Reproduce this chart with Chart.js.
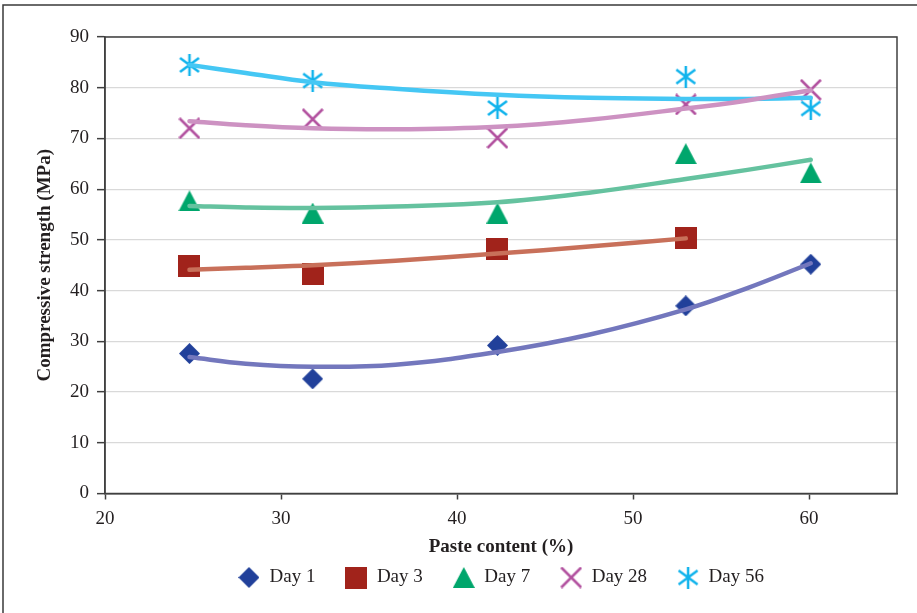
<!DOCTYPE html>
<html>
<head>
<meta charset="utf-8">
<script src="https://cdn.jsdelivr.net/npm/chart.js@4/dist/chart.umd.min.js"></script>
<style>
  html, body { margin: 0; padding: 0; background: #fff; }
  #wrap { position: relative; width: 917px; height: 613px; }
</style>
</head>
<body>
<div id="wrap"><canvas id="chart" width="917" height="613"></canvas></div>
<script>
// measured points, paste content (%) vs compressive strength (MPa)
const pasteContent = [24.8, 31.8, 42.3, 53.0, 60.1];
const day1 = [27.6, 22.6, 29.2, 37.0, 45.2];
const day3 = [44.9, 43.2, 48.3, 50.3];
const day7 = [57.7, 55.3, 55.3, 67.0, 63.2];
const day28 = [72.0, 73.8, 70.1, 76.7, 79.6];
const day56 = [84.5, 81.4, 76.0, 82.2, 75.9];

// trend curves
const trendX = [24.8, 28, 31.8, 36.5, 42.3, 47.5, 53.0, 56.5, 60.1];
const day1Trend = [26.9, 25.6, 25.0, 25.4, 27.9, 31.3, 36.3, 40.5, 45.4];
const day3Trend = [44.1, 44.5, 45.0, 45.9, 47.3, 48.7, 50.3];
const day7Trend = [56.7, 56.4, 56.3, 56.6, 57.4, 59.3, 62.0, 63.8, 65.8];
const day28Trend = [73.4, 72.6, 72.0, 71.8, 72.3, 73.7, 75.9, 77.5, 79.5];
const day56Trend = [84.5, 82.9, 81.1, 79.8, 78.6, 78.0, 77.8, 77.8, 78.0];

const seriesLabels = ['Day 1', 'Day 3', 'Day 7', 'Day 28', 'Day 56'];
const xTicksStep = 10;
const yTicksStep = 10;

const FONT_FAMILY = "'Liberation Serif', 'Times New Roman', serif";
const TEXT_COLOR = '#231f20';
const AXIS_COLOR = '#404040';

function makeMarker(w, h, draw) {
  const c = document.createElement('canvas');
  c.width = w;
  c.height = h;
  const ctx = c.getContext('2d');
  draw(ctx, w, h);
  return c;
}

const diamondMarker = makeMarker(21, 21, (ctx, w, h) => {
  ctx.fillStyle = '#21409a';
  ctx.beginPath();
  ctx.moveTo(w / 2, 0);
  ctx.lineTo(w, h / 2);
  ctx.lineTo(w / 2, h);
  ctx.lineTo(0, h / 2);
  ctx.closePath();
  ctx.fill();
});

const squareMarker = makeMarker(22, 22, (ctx, w, h) => {
  ctx.fillStyle = '#a1231b';
  ctx.fillRect(0, 0, w, h);
});

const triangleMarker = makeMarker(22, 21, (ctx, w, h) => {
  ctx.fillStyle = '#00a66c';
  ctx.beginPath();
  ctx.moveTo(w / 2, 0);
  ctx.lineTo(w, h);
  ctx.lineTo(0, h);
  ctx.closePath();
  ctx.fill();
});

const crossMarker = makeMarker(22, 22, (ctx, w, h) => {
  ctx.strokeStyle = '#b2519f';
  ctx.lineWidth = 2.5;
  ctx.beginPath();
  ctx.moveTo(1, 1);
  ctx.lineTo(w - 1, h - 1);
  ctx.moveTo(w - 1, 1);
  ctx.lineTo(1, h - 1);
  ctx.stroke();
});

const starMarker = makeMarker(22, 22, (ctx, w, h) => {
  ctx.strokeStyle = '#10b3ec';
  ctx.lineWidth = 2.5;
  ctx.beginPath();
  ctx.moveTo(w / 2, 0);
  ctx.lineTo(w / 2, h);
  ctx.moveTo(1.5, 4);
  ctx.lineTo(w - 1.5, h - 4);
  ctx.moveTo(w - 1.5, 4);
  ctx.lineTo(1.5, h - 4);
  ctx.stroke();
});

const pairs = (xs, ys) => ys.map((y, i) => ({ x: xs[i], y }));

function markerSet(label, values, marker) {
  return {
    label,
    data: pairs(pasteContent, values),
    pointStyle: marker,
    pointRadius: 11,
    showLine: false,
    order: 1,
  };
}

function trendSet(values, color) {
  return {
    label: '',
    isTrend: true,
    data: pairs(trendX, values),
    showLine: true,
    borderColor: color,
    borderWidth: 4.5,
    borderCapStyle: 'round',
    borderJoinStyle: 'round',
    tension: 0.4,
    pointRadius: 0,
    fill: false,
    order: 0,
  };
}

// outer figure frame + box round the plot area
const framePlugin = {
  id: 'frame',
  beforeDraw(chart) {
    const ctx = chart.ctx;
    ctx.save();
    ctx.strokeStyle = '#3a3a3a';
    ctx.lineWidth = 1.5;
    ctx.beginPath();
    ctx.moveTo(3, 613);
    ctx.lineTo(3, 5);
    ctx.lineTo(917, 5);
    ctx.stroke();
    ctx.restore();
  },
  beforeDatasetsDraw(chart) {
    const { ctx, chartArea } = chart;
    ctx.save();
    ctx.strokeStyle = AXIS_COLOR;
    ctx.lineWidth = 1.5;
    ctx.strokeRect(chartArea.left, chartArea.top, chartArea.right - chartArea.left, chartArea.bottom - chartArea.top);
    ctx.restore();
  },
};

new Chart(document.getElementById('chart'), {
  type: 'scatter',
  data: {
    datasets: [
      markerSet(seriesLabels[0], day1, diamondMarker),
      markerSet(seriesLabels[1], day3, squareMarker),
      markerSet(seriesLabels[2], day7, triangleMarker),
      markerSet(seriesLabels[3], day28, crossMarker),
      markerSet(seriesLabels[4], day56, starMarker),
      trendSet(day1Trend, '#7377bd'),
      trendSet(day3Trend, '#c8705a'),
      trendSet(day7Trend, '#65c29f'),
      trendSet(day28Trend, '#cd92c2'),
      trendSet(day56Trend, '#45c7f4'),
    ],
  },
  plugins: [framePlugin],
  options: {
    responsive: false,
    animation: false,
    devicePixelRatio: 1,
    layout: { padding: { top: 37, left: 10, right: 20, bottom: 16 } },
    plugins: {
      tooltip: { enabled: false },
      legend: {
        position: 'bottom',
        fullSize: false,
        labels: {
          usePointStyle: true,
          pointStyleWidth: 22,
          padding: 30,
          color: TEXT_COLOR,
          font: { family: FONT_FAMILY, size: 19 },
          filter: (item, data) => !data.datasets[item.datasetIndex].isTrend,
        },
      },
    },
    scales: {
      x: {
        type: 'linear',
        min: 20,
        max: 65,
        afterFit: (scale) => { scale.height = 44.5; },
        ticks: {
          stepSize: xTicksStep,
          includeBounds: false,
          padding: 8,
          color: TEXT_COLOR,
          font: { family: FONT_FAMILY, size: 19 },
        },
        grid: {
          drawOnChartArea: false,
          drawTicks: true,
          tickLength: 6,
          tickColor: AXIS_COLOR,
          tickWidth: 1.5,
        },
        border: { color: AXIS_COLOR, width: 1.5 },
        title: {
          display: true,
          text: 'Paste content (%)',
          color: TEXT_COLOR,
          font: { family: FONT_FAMILY, size: 19, weight: 'bold' },
          padding: { top: 0, bottom: -20.4 },
        },
      },
      y: {
        min: 0,
        max: 90,
        afterFit: (scale) => { scale.width = 95; },
        ticks: {
          stepSize: yTicksStep,
          padding: 8,
          color: TEXT_COLOR,
          font: { family: FONT_FAMILY, size: 19 },
        },
        grid: {
          color: '#d9d9d9',
          lineWidth: 1.3,
          drawTicks: true,
          tickLength: 8,
          tickColor: AXIS_COLOR,
          tickWidth: 1.5,
        },
        border: { color: AXIS_COLOR, width: 1.5 },
        title: {
          display: true,
          text: 'Compressive strength (MPa)',
          color: TEXT_COLOR,
          font: { family: FONT_FAMILY, size: 19, weight: 'bold' },
          padding: { top: 23.6, bottom: 0 },
        },
      },
    },
  },
});
</script>
</body>
</html>
